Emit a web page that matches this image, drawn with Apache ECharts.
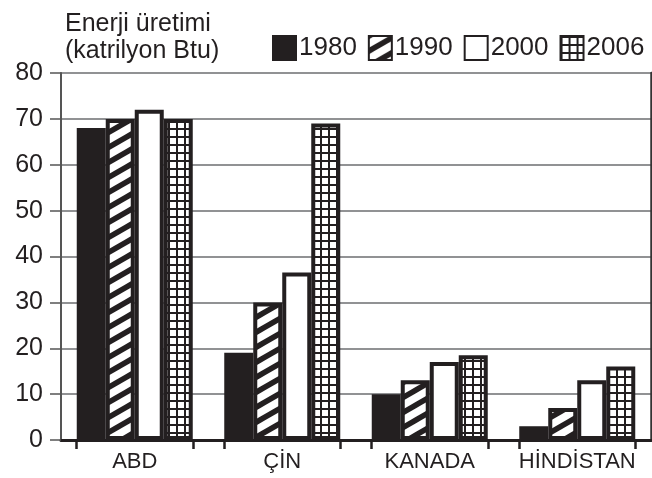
<!DOCTYPE html>
<html>
<head>
<meta charset="utf-8">
<script src="https://cdn.jsdelivr.net/npm/echarts@6/dist/echarts.min.js"></script>
<style>
  html, body { margin: 0; padding: 0; background: #fff; }
  #chart { width: 652px; height: 478px; }
</style>
</head>
<body>
<div id="chart"></div>
<script>
const countries = ['ABD', 'ÇİN', 'KANADA', 'HİNDİSTAN']
const years = ['1980', '1990', '2000', '2006']
const v1980 = [68, 19, 10, 3]
const v1990 = [70, 30, 13, 7]
const v2000 = [72, 36.5, 17, 13]
const v2006 = [70, 69, 18.5, 16]
const yTicks = [0, 10, 20, 30, 40, 50, 60, 70, 80]

const INK = '#231f20'
const GROUP = 0.79   // share of a category taken by the bar group

function stripes() {
  const c = document.createElement('canvas')
  c.width = 26; c.height = 15
  const g = c.getContext('2d')
  g.fillStyle = '#fff'; g.fillRect(0, 0, 26, 15)
  g.strokeStyle = INK; g.lineWidth = 5.5
  for (let k = -2; k <= 2; k++) {
    g.beginPath()
    g.moveTo(-2, 15 + k * 15 + 15 / 13)
    g.lineTo(28, k * 15 - 15 / 13)
    g.stroke()
  }
  return { image: c, repeat: 'repeat' }
}

function grid() {
  const c = document.createElement('canvas')
  c.width = 8; c.height = 8
  const g = c.getContext('2d')
  g.fillStyle = '#fff'; g.fillRect(0, 0, 8, 8)
  g.fillStyle = INK
  g.fillRect(0, 0, 8, 2)
  g.fillRect(0, 0, 2, 8)
  return { image: c, repeat: 'repeat' }
}

const fills = [INK, stripes(), '#fff', grid()]
const values = [v1980, v1990, v2000, v2006]

const edgeTicks = []
countries.forEach((_, i) => {
  edgeTicks.push(i + (1 - GROUP) / 2, i + 1 - (1 - GROUP) / 2)
})

const chart = echarts.init(document.getElementById('chart'))
chart.setOption({
  animation: false,
  textStyle: { fontFamily: 'Liberation Sans, Arial, sans-serif', color: INK },
  title: {
    text: 'Enerji üretimi\n(katrilyon Btu)',
    left: 60, top: 6,
    textStyle: { fontSize: 25, fontWeight: 'normal', color: INK, lineHeight: 27 }
  },
  legend: {
    left: 272, top: 35, width: 380, padding: 0,
    icon: 'rect', itemWidth: 23, itemHeight: 24, itemGap: 11,
    textStyle: { fontSize: 26, color: INK, padding: [0, 0, 0, -2] },
    data: years.map(y => ({ name: y, itemStyle: { borderColor: INK, borderWidth: 2 } }))
  },
  grid: { left: 61, right: 1, top: 73, bottom: 38 },
  xAxis: [{
    type: 'category', data: countries,
    axisLine: { lineStyle: { color: INK, width: 3 } },
    axisTick: { show: false },
    axisLabel: { fontSize: 22, color: INK, margin: 11, interval: 0 }
  }, {
    type: 'value', min: 0, max: 4, position: 'bottom',
    axisLine: { show: false },
    axisLabel: { show: false },
    splitLine: { show: false },
    axisTick: { show: true, customValues: edgeTicks, length: 9, lineStyle: { color: INK, width: 2.5 } }
  }],
  yAxis: [{
    type: 'value', min: 0, max: 80, interval: 10,
    axisLine: { show: true, lineStyle: { color: '#555', width: 2 } },
    axisTick: { show: true, length: 11, lineStyle: { color: '#555', width: 1.5 } },
    axisLabel: { fontSize: 25, color: INK, margin: 18, customValues: yTicks },
    splitLine: { lineStyle: { color: '#6d6e70', width: 1.5 } }
  }, {
    type: 'value', min: 0, max: 80, interval: 10, position: 'right',
    axisLine: { show: true, lineStyle: { color: '#333', width: 2.5 } },
    axisTick: { show: false }, axisLabel: { show: false }, splitLine: { show: false }
  }],
  series: years.map((y, i) => ({
    name: y, type: 'bar',
    xAxisIndex: 0, yAxisIndex: 0,
    barWidth: 29, barGap: '0%',
    data: values[i],
    itemStyle: { color: fills[i], borderColor: INK, borderWidth: i === 0 ? 0 : 4 }
  }))
})
</script>
</body>
</html>
